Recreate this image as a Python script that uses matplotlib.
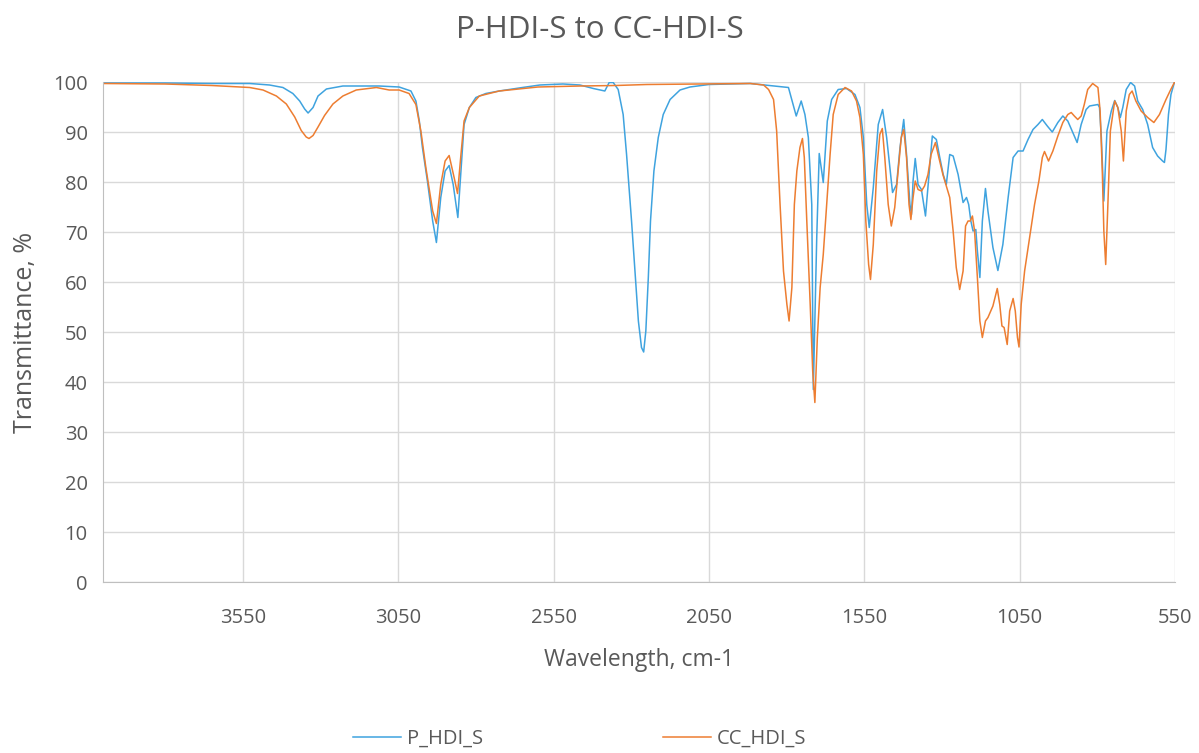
import matplotlib
matplotlib.use("Agg")
import matplotlib.pyplot as plt

plt.rcParams['font.family'] = ['Open Sans', 'DejaVu Sans']

# ---- data (wavenumber cm-1, transmittance %) ----
p_wn = [4000, 3800, 3650, 3528, 3464, 3421, 3389, 3367, 3351, 3340, 3324, 3308, 3281, 3228, 3120,
        3111, 3047, 3009, 2993, 2982, 2972, 2956, 2939, 2927, 2913, 2899, 2886, 2873, 2858, 2848,
        2838, 2821, 2800, 2768, 2725, 2650, 2594, 2520, 2465, 2422, 2385, 2371, 2358, 2342, 2326,
        2315, 2299, 2288, 2277, 2267, 2260, 2253, 2245, 2238, 2227, 2213, 2197, 2175, 2143, 2111,
        2050, 1917, 1794, 1769, 1753, 1741, 1730, 1719, 1714, 1703, 1695, 1682, 1669, 1655, 1634,
        1607, 1580, 1564, 1553, 1542, 1534, 1521, 1505, 1491, 1478, 1459, 1446, 1435, 1423, 1414,
        1403, 1398, 1393, 1386, 1377, 1366, 1353, 1339, 1331, 1318, 1307, 1296, 1286, 1275, 1264,
        1248, 1232, 1221, 1214, 1207, 1200, 1191, 1186, 1178, 1170, 1160, 1152, 1136, 1120, 1104,
        1087, 1071, 1055, 1039, 1023, 1007, 991, 977, 961, 945, 927, 911, 895, 879, 865,
        852, 836, 825, 798, 793, 787, 779, 769, 755, 744, 734, 726, 718, 707, 693,
        680, 670, 654, 638, 622, 606, 590, 584, 579, 571, 563, 552]
p_t = [99.8, 99.8, 99.7, 99.7, 99.4, 98.9, 97.7, 96.2, 94.6, 93.8, 94.9, 97.2, 98.6, 99.2, 99.2,
       99.2, 99.0, 98.2, 96.2, 92.2, 86.9, 80.2, 72.2, 67.9, 76.9, 82.2, 83.3, 79.5, 72.9, 82.2,
       91.5, 94.9, 96.9, 97.7, 98.2, 98.9, 99.4, 99.6, 99.4, 98.7, 98.2, 99.9, 99.9, 98.5, 93.5,
       85.5, 72.2, 62.2, 52.2, 46.9, 46.0, 50.2, 60.9, 72.2, 82.2, 88.9, 93.5, 96.5, 98.4, 99.0,
       99.5, 99.7, 98.9, 93.2, 96.2, 93.5, 88.9, 75.5, 38.5, 68.9, 85.7, 79.9, 92.2, 96.5, 98.5,
       98.7, 97.5, 94.9, 88.9, 75.5, 70.9, 78.9, 91.5, 94.5, 88.9, 77.9, 79.5, 86.9, 92.5, 85.5,
       75.5, 73.5, 80.2, 84.7, 79.5, 78.5, 73.2, 83.5, 89.2, 88.5, 84.9, 81.5, 79.5, 85.5, 85.2,
       81.5, 75.9, 76.9, 75.5, 72.2, 70.2, 70.5, 66.2, 60.9, 72.2, 78.7, 74.2, 66.9, 62.3, 67.5,
       76.9, 84.9, 86.2, 86.2, 88.5, 90.5, 91.5, 92.5, 91.2, 90.0, 91.9, 93.2, 92.2, 89.9, 87.9,
       91.5, 94.5, 95.2, 95.5, 94.9, 88.9, 76.2, 90.2, 94.2, 96.3, 94.9, 92.9, 94.9, 98.5, 99.9,
       99.2, 96.2, 94.5, 91.5, 86.9, 85.2, 84.2, 83.9, 86.5, 93.5, 97.5, 99.9]

cc_wn = [4000, 3800, 3650, 3528, 3485, 3442, 3410, 3383, 3362, 3346, 3337, 3324, 3308, 3287, 3260,
         3228, 3185, 3120, 3079, 3047, 3015, 2993, 2977, 2961, 2939, 2927, 2913, 2899, 2886, 2870,
         2859, 2848, 2838, 2821, 2789, 2725, 2600, 2465, 2350, 2250, 2100, 1917, 1874, 1858, 1842,
         1832, 1821, 1810, 1799, 1792, 1783, 1775, 1767, 1757, 1749, 1743, 1735, 1724, 1716, 1709,
         1701, 1692, 1682, 1671, 1660, 1650, 1634, 1612, 1591, 1575, 1564, 1553, 1545, 1536, 1530,
         1521, 1510, 1500, 1492, 1484, 1473, 1463, 1452, 1441, 1431, 1423, 1414, 1406, 1400, 1393,
         1386, 1377, 1366, 1356, 1345, 1335, 1321, 1310, 1297, 1286, 1275, 1264, 1254, 1243, 1232,
         1224, 1216, 1209, 1202, 1195, 1186, 1178, 1170, 1160, 1152, 1136, 1122, 1114, 1107, 1100,
         1090, 1082, 1071, 1064, 1057, 1052, 1045, 1034, 1018, 1002, 988, 977, 970, 957, 943,
         927, 911, 895, 884, 874, 863, 852, 842, 831, 815, 798, 791, 784, 779, 773,
         766, 758, 744, 734, 723, 716, 707, 697, 688, 676, 659, 638, 618, 600, 579,
         566, 552]
cc_t = [99.7, 99.6, 99.3, 98.9, 98.4, 97.2, 95.6, 93.0, 90.3, 89.0, 88.7, 89.3, 91.0, 93.3, 95.6,
        97.2, 98.4, 98.9, 98.4, 98.4, 97.7, 95.5, 90.2, 82.9, 74.2, 71.7, 79.5, 84.2, 85.3, 80.9,
        77.7, 85.5, 92.2, 94.9, 97.2, 98.2, 99.0, 99.2, 99.3, 99.5, 99.6, 99.7, 99.4, 98.5, 96.5,
        90.2, 75.5, 62.2, 55.5, 52.2, 58.9, 75.5, 82.2, 86.9, 88.7, 84.9, 72.2, 55.5, 42.2, 35.9,
        48.9, 58.9, 65.5, 75.5, 85.5, 93.5, 97.5, 98.9, 98.2, 96.2, 92.9, 85.5, 72.2, 63.5, 60.5,
        67.5, 82.2, 89.5, 90.7, 84.9, 75.5, 71.2, 74.9, 82.2, 88.9, 90.5, 84.9, 75.5, 72.5, 76.9,
        80.2, 78.5, 78.2, 79.2, 81.5, 85.5, 87.9, 84.9, 81.5, 79.2, 76.9, 70.2, 62.9, 58.5, 62.2,
        71.2, 72.2, 72.2, 73.2, 70.2, 60.9, 52.2, 48.9, 52.2, 52.9, 55.2, 58.7, 55.5, 51.2, 50.9,
        47.5, 54.2, 56.7, 54.2, 48.9, 47.0, 55.5, 62.2, 68.9, 75.5, 80.2, 84.9, 86.1, 84.2, 86.2,
        89.2, 91.9, 93.5, 93.9, 93.2, 92.5, 93.2, 95.5, 98.5, 99.7, 98.9, 94.2, 82.2, 70.2, 63.5,
        75.5, 90.2, 96.2, 94.9, 90.2, 84.2, 94.2, 97.5, 98.2, 96.2, 94.2, 92.9, 91.9, 93.5, 96.5,
        98.2, 99.9]

x_ticks = [3550, 3050, 2550, 2050, 1550, 1050, 550]
y_ticks = list(range(0, 101, 10))

TXT = '#595959'
GRID = '#D9D9D9'
AXIS = '#BFBFBF'

fig = plt.figure(figsize=(11.99, 7.53), dpi=100)
ax = fig.add_axes([103/1199, 1-582/753, (1175-103)/1199, 500/753])

ax.plot(p_wn, p_t, color='#3FA3DF', lw=1.1, label='P_HDI_S')
ax.plot(cc_wn, cc_t, color='#ED7D31', lw=1.1, label='CC_HDI_S')

ax.set_xlim(4000, 550)
ax.set_ylim(0, 100)
ax.set_xticks(x_ticks)
ax.set_yticks(y_ticks)
ax.grid(True, color=GRID, lw=1.0)
ax.set_axisbelow(True)
for s in ['top', 'right']:
    ax.spines[s].set_visible(False)
ax.spines['bottom'].set_color(AXIS)
ax.spines['left'].set_color(AXIS)
ax.tick_params(length=0, labelsize=14.5, colors=TXT)
ax.tick_params(axis='x', pad=19)
ax.tick_params(axis='y', pad=11)

ax.set_xlabel('Wavelength, cm-1', fontsize=16.5, color=TXT, labelpad=14)
ax.set_ylabel('Transmittance, %', fontsize=18, color=TXT, labelpad=11)
fig.suptitle('P-HDI-S to CC-HDI-S', fontsize=22.5, color=TXT, y=1-30/753, va='center')

leg = fig.legend(loc='center left', bbox_to_anchor=(353/1199, 1-739/753), ncol=2, frameon=False,
                 fontsize=14.5, handlelength=2.4, handletextpad=0.3, columnspacing=8.9,
                 borderpad=0, borderaxespad=0, labelcolor=TXT)

fig.savefig('out.png', dpi=100)
